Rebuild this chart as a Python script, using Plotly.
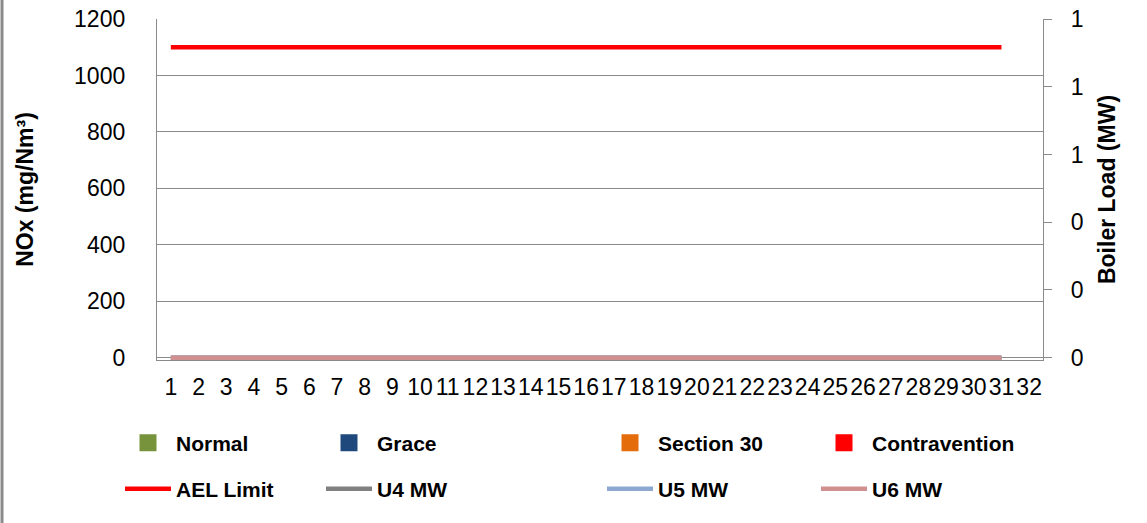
import plotly.graph_objects as go

days = list(range(1, 32))
tick_labels = [str(i) for i in range(1, 33)]

normal = [None] * 31
grace = [None] * 31
section30 = [None] * 31
contravention = [None] * 31
ael_limit = [1100] * 31
u4_mw = [0] * 31
u5_mw = [0] * 31
u6_mw = [0] * 31

FONT = "Liberation Sans"
GRID = "#8a8a8a"

fig = go.Figure()

bar_series = [
    ("Normal", normal, "#77933C", "legend"),
    ("Grace", grace, "#1F497D", "legend2"),
    ("Section 30", section30, "#E46C0A", "legend3"),
    ("Contravention", contravention, "#FF0000", "legend4"),
]
for name, vals, col, lg in bar_series:
    fig.add_trace(go.Bar(x=days, y=vals, name=name, marker=dict(color=col, line=dict(color=col, width=6)),
                         legend=lg, yaxis="y"))

fig.add_trace(go.Scatter(x=days, y=ael_limit, name="AEL Limit", mode="lines", cliponaxis=False,
                         line=dict(color="#FF0000", width=4.5), legend="legend5", yaxis="y"))
line_series = [
    ("U4 MW", u4_mw, "#808080", "legend6"),
    ("U5 MW", u5_mw, "#8EA9D1", "legend7"),
    ("U6 MW", u6_mw, "#D09090", "legend8"),
]
for name, vals, col, lg in line_series:
    fig.add_trace(go.Scatter(x=days, y=vals, name=name, mode="lines", cliponaxis=False,
                             line=dict(color=col, width=4.5), legend=lg, yaxis="y2"))

L, R, T, B = 157, 104, 19, 163
W, H = 1147, 523
pw, ph = W - L - R, H - T - B
Y1_MIN, Y1_MAX = -8, 1200
Y2_MIN, Y2_MAX = -8 / 1200, 1


def px_x(p):
    return (p - L) / pw


def px_y(p):
    return (H - B - p) / ph


legend_font = dict(family=FONT, size=21, color="black", weight="bold")
text_starts = [177, 378, 659, 873]
rows = [443, 489]
ITEMW = 46
names = ["legend", "legend2", "legend3", "legend4", "legend5", "legend6", "legend7", "legend8"]
legends = {}
for i, nm in enumerate(names):
    r = i // 4
    c = i % 4
    legends[nm] = dict(x=px_x(text_starts[c] - 41 - (ITEMW - 30)), y=px_y(rows[r]), xanchor="left",
                       yanchor="middle", itemwidth=ITEMW,
                       orientation="h", font=legend_font, bgcolor="rgba(0,0,0,0)", borderwidth=0)

fig.update_layout(
    width=W, height=H,
    margin=dict(l=L, r=R, t=T, b=B, pad=0, autoexpand=False),
    paper_bgcolor="white", plot_bgcolor="white",
    barmode="group",
    showlegend=True,
    font=dict(family=FONT, color="black"),
    xaxis=dict(
        range=[0.5, 32.5], tickmode="array", tickvals=list(range(1, 33)), ticktext=tick_labels,
        tickangle=0,
        showgrid=False, showline=True, linecolor=GRID, linewidth=1.3, ticks="", zeroline=False,
        tickfont=dict(family=FONT, size=23, color="black"), ticklabelstandoff=6, automargin=False,
    ),
    yaxis=dict(
        range=[Y1_MIN, Y1_MAX], tick0=0, dtick=200, showgrid=True, gridcolor=GRID, gridwidth=1.3,
        showline=True, linecolor=GRID, linewidth=1.3, ticks="", zeroline=False,
        tickfont=dict(family=FONT, size=23, color="black"), ticklabelstandoff=26, automargin=False,
        title=dict(text="NOx (mg/Nm³)", font=dict(family=FONT, size=23, weight="bold", color="black"), standoff=34),
    ),
    yaxis2=dict(
        range=[Y2_MIN, Y2_MAX], tick0=0, dtick=0.2, tickformat=".0f", overlaying="y", side="right",
        showgrid=False, showline=True, linecolor=GRID, linewidth=1.3, ticks="outside", ticklen=8,
        tickcolor=GRID, tickwidth=1.3, zeroline=False, automargin=False,
        tickfont=dict(family=FONT, size=23, color="black"), ticklabelstandoff=14,
        title=dict(text="Boiler Load (MW)", font=dict(family=FONT, size=23, weight="bold", color="black"), standoff=16),
    ),
    **legends,
)

fig.add_shape(type="line", xref="paper", yref="paper", x0=px_x(2), x1=px_x(2), y0=px_y(0), y1=px_y(523),
              line=dict(color="#8a8a8a", width=3))

fig.write_html("out.html", post_script="document.body.style.margin='0';",
               config={"displayModeBar": False})
